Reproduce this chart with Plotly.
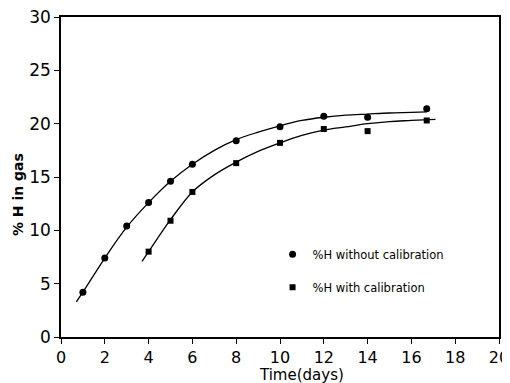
import plotly.graph_objects as go

# Measured data points
days_uncal = [1, 2, 3, 4, 5, 6, 8, 10, 12, 14, 16.7]
h_uncal = [4.2, 7.4, 10.4, 12.6, 14.6, 16.2, 18.4, 19.7, 20.7, 20.6, 21.4]
days_cal = [4, 5, 6, 8, 10, 12, 14, 16.7]
h_cal = [8.0, 10.9, 13.6, 16.3, 18.2, 19.5, 19.3, 20.3]

# Fitted curves
fit_uncal_x = [0.7, 1, 2, 3, 4, 5, 6, 7, 8, 9, 10, 11, 12, 13, 14, 15, 16, 16.7]
fit_uncal_y = [3.3, 4.2, 7.4, 10.3, 12.6, 14.6, 16.2, 17.5, 18.5, 19.2, 19.8, 20.3, 20.6, 20.8, 20.9, 21.0, 21.05, 21.1]
fit_cal_x = [3.7, 4, 5, 6, 7, 8, 9, 10, 11, 12, 13, 14, 15, 16, 17.1]
fit_cal_y = [7.1, 8.0, 11.0, 13.6, 15.2, 16.4, 17.4, 18.2, 18.9, 19.4, 19.7, 20.0, 20.2, 20.3, 20.4]

x_ticks = list(range(0, 21, 2))
y_ticks = list(range(0, 31, 5))

x_title = "Time(days)"
y_title = "% H in gas"

fig = go.Figure()
fig.add_trace(go.Scatter(x=fit_uncal_x, y=fit_uncal_y, mode="lines", line=dict(color="black", width=1.3, shape="spline"), showlegend=False, hoverinfo="skip"))
fig.add_trace(go.Scatter(x=fit_cal_x, y=fit_cal_y, mode="lines", line=dict(color="black", width=1.3, shape="spline"), showlegend=False, hoverinfo="skip"))
fig.add_trace(go.Scatter(x=days_uncal, y=h_uncal, mode="markers", name="%H without calibration",
                         marker=dict(symbol="circle", size=7, color="black"), legendgroup="a"))
fig.add_trace(go.Scatter(x=days_cal, y=h_cal, mode="markers", name="%H with calibration",
                         marker=dict(symbol="square", size=6, color="black"), legendgroup="b"))

axis_common = dict(showline=True, linecolor="black", linewidth=1.5, mirror=True, ticks="outside",
                   ticklen=5, tickcolor="black", tickwidth=1.2, showgrid=False, zeroline=False,
                   automargin=False, ticklabeloverflow="allow")

fig.update_xaxes(range=[0, 20], tickvals=x_ticks, ticktext=[str(v) for v in x_ticks],
                 tickfont=dict(family="DejaVu Sans", size=16, color="black"), **axis_common)
fig.update_yaxes(range=[0, 30], tickvals=y_ticks, ticktext=[str(v) for v in y_ticks],
                 tickfont=dict(family="DejaVu Sans", size=17, color="black"), **axis_common)

fig.add_annotation(text=x_title, xref="paper", yref="paper", x=0.55, y=-0.118,
                   xanchor="center", yanchor="middle", showarrow=False,
                   font=dict(family="DejaVu Sans", size=15, color="black"))
fig.add_annotation(text="<b>" + y_title + "</b>", xref="paper", yref="paper", x=-0.0993, y=0.445,
                   xanchor="center", yanchor="middle", showarrow=False, textangle=-90,
                   font=dict(family="DejaVu Sans", size=14, color="black"))

# The page body adds an 8px offset, so the figure is sized to fit the window
fig.update_layout(
    width=502, height=375,
    margin=dict(l=53, r=11, t=9, b=46),
    plot_bgcolor="white", paper_bgcolor="white",
    legend=dict(x=0.483, y=0.207, xanchor="left", yanchor="middle", bgcolor="rgba(0,0,0,0)",
                font=dict(family="DejaVu Sans", size=11.5, color="black"), tracegroupgap=14,
                itemwidth=30),
)

fig.write_html("out.html")
